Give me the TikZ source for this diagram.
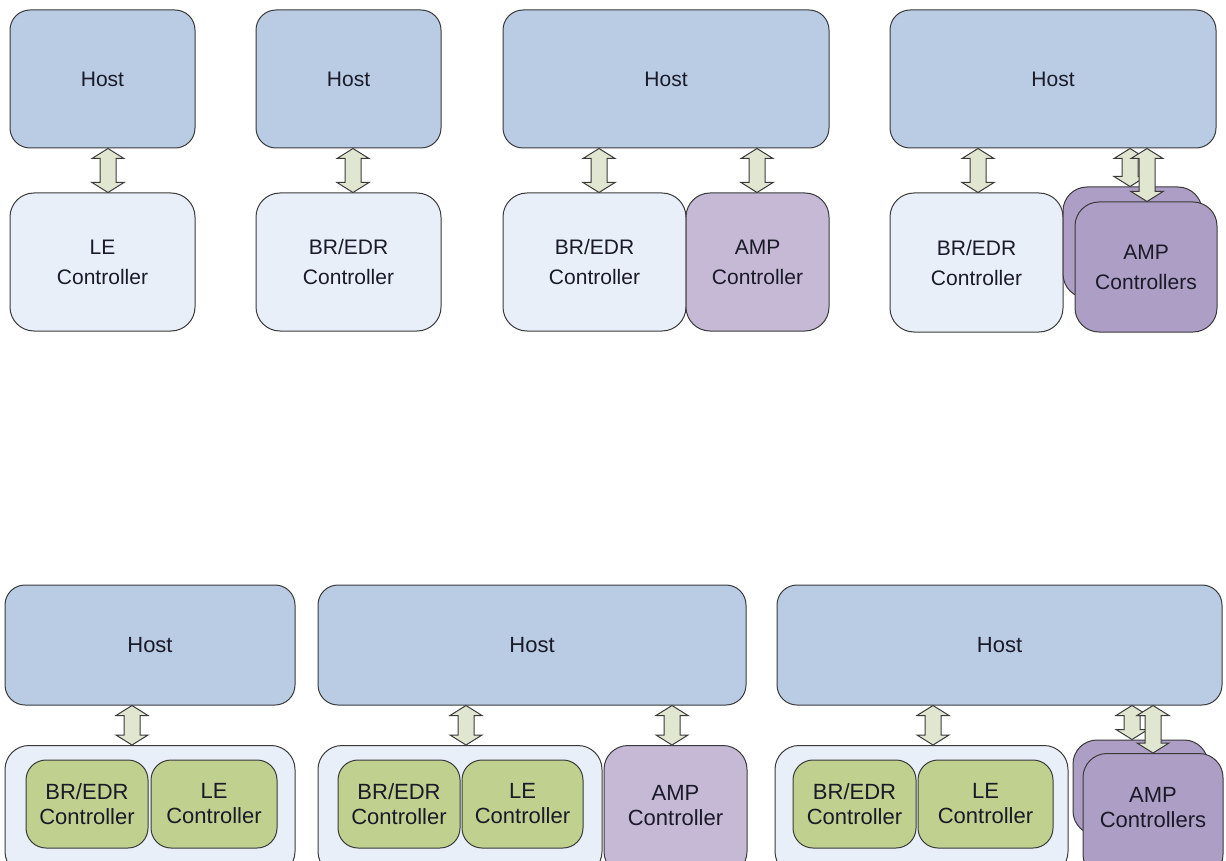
\documentclass[tikz,border=0pt]{standalone}
\usepackage{fontspec}
\setmainfont{Liberation Sans}
\usetikzlibrary{calc}

\definecolor{linec}{HTML}{3A3A3A}
\definecolor{txtc}{HTML}{1A1A28}
\definecolor{hostc}{HTML}{B9CCE4}
\definecolor{ctrlc}{HTML}{E9EFF8}
\definecolor{ampc}{HTML}{C5B9D6}
\definecolor{ampsc}{HTML}{AD9EC6}
\definecolor{greenc}{HTML}{BFD08F}
\definecolor{arrowc}{HTML}{E1E6D0}

\tikzset{
  basebox/.style={draw=linec, line width=1pt, inner sep=0pt, align=center, text=txtc},
  hostbox/.style={basebox, fill=hostc, rounded corners=20pt},
  ctrlbox/.style={basebox, fill=ctrlc, rounded corners=24pt},
  ampbox/.style={basebox, fill=ampc, rounded corners=24pt},
  ampsbox/.style={basebox, fill=ampsc, rounded corners=24pt},
  greenbox/.style={basebox, fill=greenc, rounded corners=20pt},
  toptext/.style={font=\fontsize{21}{30}\selectfont},
  lowtext/.style={font=\fontsize{22}{25}\selectfont},
  label/.style={inner sep=0pt, align=center, text=txtc},
  linkstyle/.style={draw=linec, line width=1pt, fill=arrowc, line join=miter},
}

% double-headed block arrow at abscissa #1 from the bottom of #2 to the top of #3
\newcommand\linkarrow[3]{%
  \path[linkstyle] let \p0=(#1,0), \p1=(#2.south), \p2=(#3.north) in
    (\x0,\y1) -- (\x0+16pt,\y1-10pt) -- (\x0+8pt,\y1-10pt) -- (\x0+8pt,\y2+10pt)
    -- (\x0+16pt,\y2+10pt) -- (\x0,\y2) -- (\x0-16pt,\y2+10pt) -- (\x0-8pt,\y2+10pt)
    -- (\x0-8pt,\y1-10pt) -- (\x0-16pt,\y1-10pt) -- cycle;
}

\begin{document}
\begin{tikzpicture}[x=1pt, y=-1pt]
\path[use as bounding box] (0,0) rectangle (1226,861);
\clip (0,0) rectangle (1226,861);

% ---------- upper row ----------
% LE only
\node[hostbox, toptext, minimum width=185pt, minimum height=138pt] (h1) at (102.5,79) {Host};
\node[ctrlbox, toptext, minimum width=185pt, minimum height=138pt] (c1) at (102.5,262) {LE\\Controller};
\linkarrow{108}{h1}{c1}

% BR/EDR only
\node[hostbox, toptext, minimum width=185pt, minimum height=138pt] (h2) at (348.5,79) {Host};
\node[ctrlbox, toptext, minimum width=185pt, minimum height=138pt] (c2) at (348.5,262) {BR/EDR\\Controller};
\linkarrow{353}{h2}{c2}

% BR/EDR + AMP
\node[hostbox, toptext, minimum width=326pt, minimum height=138pt] (h3) at (666,79) {Host};
\node[ctrlbox, toptext, minimum width=183pt, minimum height=138pt] (c3a) at (594.5,262) {BR/EDR\\Controller};
\node[ampbox, toptext, minimum width=143pt, minimum height=138pt] (c3b) at (757.5,262) {AMP\\Controller};
\linkarrow{599}{h3}{c3a}
\linkarrow{757}{h3}{c3b}

% BR/EDR + several AMPs
\node[hostbox, toptext, minimum width=326pt, minimum height=138pt] (h4) at (1053,79) {Host};
\node[ctrlbox, toptext, minimum width=173pt, minimum height=139pt] (c4a) at (976.5,262.5) {BR/EDR\\Controller};
\linkarrow{978}{h4}{c4a}
\node[ampsbox, minimum width=139pt, minimum height=111pt] (c4back) at (1132.5,242.5) {};
\linkarrow{1130}{h4}{c4back}
\node[ampsbox, toptext, minimum width=142pt, minimum height=130pt] (c4front) at (1146,267) {AMP\\Controllers};
\linkarrow{1147}{h4}{c4front}

% ---------- lower row ----------
% combined BR/EDR + LE
\node[hostbox, lowtext, minimum width=290pt, minimum height=120pt] (H1) at (150,645) {Host};
\node[ctrlbox, minimum width=290pt, minimum height=130pt, anchor=north] (K1) at (150,745) {};
\node[greenbox, lowtext, minimum width=122pt, minimum height=88pt] (G1a) at (87,804) {BR/EDR\\Controller};
\node[greenbox, lowtext, minimum width=126pt, minimum height=88pt] (G1b) at (214,804) {LE\\Controller};
\linkarrow{132}{H1}{K1}

% combined BR/EDR + LE with AMP
\node[hostbox, lowtext, minimum width=428pt, minimum height=120pt] (H2) at (532,645) {Host};
\node[ctrlbox, minimum width=284pt, minimum height=130pt, anchor=north] (K2) at (460,745) {};
\node[greenbox, lowtext, minimum width=122pt, minimum height=88pt] (G2a) at (399,804) {BR/EDR\\Controller};
\node[greenbox, lowtext, minimum width=121pt, minimum height=88pt] (G2b) at (522.5,804) {LE\\Controller};
\node[ampbox, minimum width=143pt, minimum height=130pt, anchor=north] (A2) at (675.5,745) {};
\node[label, lowtext] (A2t) at (675.5,806) {AMP\\Controller};
\linkarrow{466}{H2}{K2}
\linkarrow{672}{H2}{A2}

% combined BR/EDR + LE with several AMPs
\node[hostbox, lowtext, minimum width=445pt, minimum height=120pt] (H3) at (999.5,645) {Host};
\node[ctrlbox, minimum width=293pt, minimum height=130pt, anchor=north] (K3) at (921.5,745) {};
\node[greenbox, lowtext, minimum width=123pt, minimum height=88pt] (G3a) at (854.5,804) {BR/EDR\\Controller};
\node[greenbox, lowtext, minimum width=135pt, minimum height=88pt] (G3b) at (985.5,804) {LE\\Controller};
\linkarrow{933}{H3}{K3}
\node[ampsbox, minimum width=135pt, minimum height=95pt] (A3back) at (1140.5,787.5) {};
\linkarrow{1132}{H3}{A3back}
\node[ampsbox, minimum width=140pt, minimum height=125pt, anchor=north] (A3front) at (1153,753) {};
\node[label, lowtext] (A3t) at (1153,808) {AMP\\Controllers};
\linkarrow{1153}{H3}{A3front}
\end{tikzpicture}
\end{document}
